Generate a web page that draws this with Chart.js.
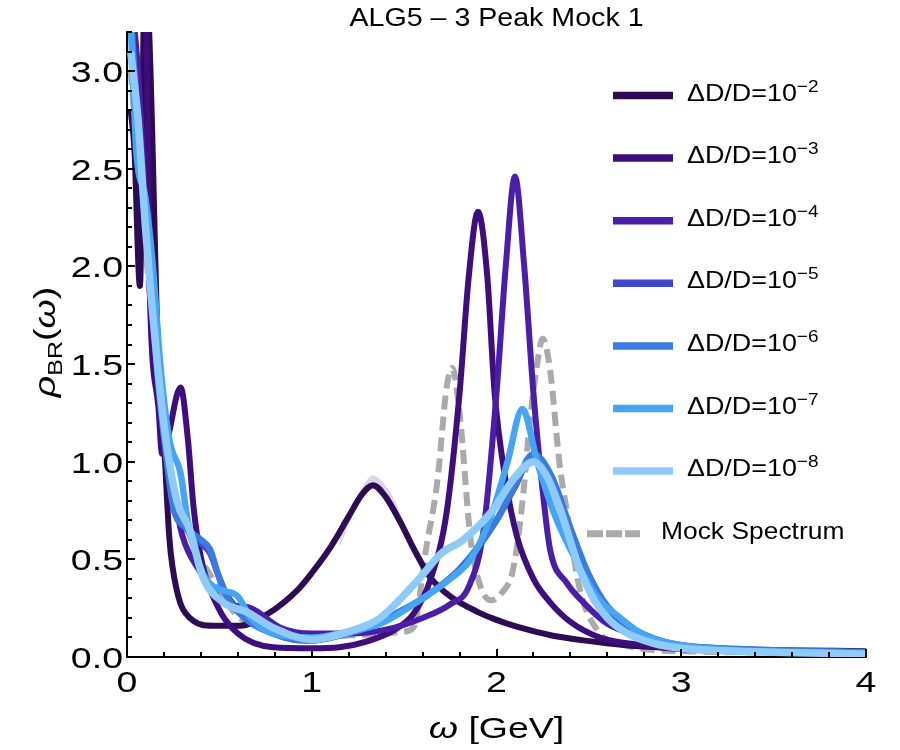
<!DOCTYPE html>
<html>
<head>
<meta charset="utf-8">
<title>ALG5 – 3 Peak Mock 1</title>
<script src="https://cdn.jsdelivr.net/npm/chart.js@4.4.1/dist/chart.umd.min.js"></script>
<style>
  html, body { margin: 0; padding: 0; background: #fff; }
  canvas { display: block; }
</style>
</head>
<body>
<canvas id="chart" width="900" height="750"></canvas>
<script>
// omega [GeV] grids and rho_BR values, one pair per dD/D
const w2 = [0.02, 0.04, 0.07, 0.095, 0.115, 0.17, 0.2, 0.23, 0.27, 0.34, 0.47, 0.61, 0.76, 0.92, 1.0, 1.1, 1.2, 1.27, 1.33, 1.4, 1.48, 1.56, 1.64, 1.75, 1.9, 2.0, 2.11, 2.3, 2.47, 2.7, 3.0, 3.5, 4.0];
const rho2 = [2.8, 2.6, 1.9, 3.4, 3.3, 1.5, 1.1, 0.6, 0.34, 0.2, 0.16, 0.16, 0.22, 0.34, 0.43, 0.56, 0.72, 0.83, 0.88, 0.82, 0.69, 0.54, 0.41, 0.31, 0.23, 0.19, 0.155, 0.11, 0.085, 0.06, 0.045, 0.035, 0.03];

const w3 = [0.02, 0.08, 0.105, 0.12, 0.17, 0.19, 0.22, 0.29, 0.33, 0.36, 0.4, 0.49, 0.6, 0.79, 1.0, 1.15, 1.3, 1.45, 1.55, 1.64, 1.73, 1.8, 1.85, 1.9, 1.95, 1.99, 2.05, 2.11, 2.2, 2.29, 2.4, 2.56, 2.8, 3.0, 3.5, 4.0];
const rho3 = [3.4, 3.4, 3.3, 2.0, 1.28, 1.04, 1.12, 1.38, 1.11, 0.77, 0.51, 0.26, 0.12, 0.05, 0.045, 0.05, 0.08, 0.14, 0.22, 0.39, 0.74, 1.35, 1.95, 2.28, 1.95, 1.35, 0.9, 0.62, 0.4, 0.28, 0.18, 0.1, 0.06, 0.04, 0.03, 0.025];

const w4 = [0.02, 0.06, 0.1, 0.15, 0.2, 0.25, 0.3, 0.4, 0.48, 0.55, 0.67, 0.83, 1.0, 1.2, 1.4, 1.6, 1.75, 1.85, 1.93, 2.0, 2.05, 2.1, 2.15, 2.2, 2.25, 2.29, 2.38, 2.47, 2.6, 2.8, 3.0, 3.5, 4.0];
const rho4 = [3.4, 3.0, 2.3, 1.7, 1.15, 0.85, 0.62, 0.43, 0.32, 0.27, 0.25, 0.15, 0.12, 0.12, 0.14, 0.2, 0.27, 0.36, 0.65, 1.35, 2.0, 2.46, 2.0, 1.35, 0.85, 0.55, 0.38, 0.28, 0.17, 0.1, 0.05, 0.03, 0.025];

const w5 = [0.02, 0.06, 0.12, 0.17, 0.21, 0.25, 0.32, 0.4, 0.45, 0.49, 0.54, 0.65, 0.79, 0.9, 1.0, 1.15, 1.3, 1.45, 1.6, 1.8, 2.0, 2.1, 2.19, 2.3, 2.4, 2.5, 2.6, 2.75, 2.9, 3.0, 3.5, 4.0];
const rho5 = [3.3, 2.7, 2.0, 1.4, 1.05, 0.78, 0.66, 0.58, 0.53, 0.43, 0.32, 0.2, 0.12, 0.09, 0.085, 0.11, 0.15, 0.22, 0.3, 0.45, 0.7, 0.87, 1.02, 0.9, 0.64, 0.41, 0.25, 0.13, 0.08, 0.06, 0.035, 0.025];

const w6 = [0.02, 0.06, 0.12, 0.17, 0.21, 0.25, 0.32, 0.4, 0.45, 0.49, 0.54, 0.65, 0.79, 0.9, 1.0, 1.15, 1.3, 1.45, 1.6, 1.8, 2.0, 2.1, 2.2, 2.3, 2.4, 2.5, 2.6, 2.75, 2.9, 3.0, 3.5, 4.0];
const rho6 = [3.3, 2.7, 2.0, 1.4, 1.05, 0.77, 0.66, 0.6, 0.55, 0.43, 0.31, 0.19, 0.12, 0.09, 0.085, 0.11, 0.15, 0.22, 0.3, 0.45, 0.7, 0.88, 1.04, 0.92, 0.66, 0.42, 0.26, 0.14, 0.08, 0.06, 0.035, 0.025];

const w7 = [0.02, 0.05, 0.1, 0.14, 0.18, 0.23, 0.29, 0.33, 0.41, 0.47, 0.52, 0.6, 0.67, 0.79, 1.0, 1.2, 1.37, 1.6, 1.75, 1.86, 1.97, 2.06, 2.14, 2.22, 2.31, 2.45, 2.55, 2.67, 2.8, 3.0, 3.3, 4.0];
const rho7 = [3.25, 2.6, 2.35, 2.0, 1.5, 1.11, 0.94, 0.69, 0.43, 0.36, 0.34, 0.31, 0.2, 0.12, 0.1, 0.13, 0.17, 0.3, 0.4, 0.5, 0.72, 1.0, 1.27, 1.0, 0.74, 0.46, 0.3, 0.2, 0.11, 0.06, 0.035, 0.02];

const w8 = [0.02, 0.06, 0.1, 0.13, 0.17, 0.21, 0.27, 0.34, 0.41, 0.52, 0.65, 0.79, 1.0, 1.2, 1.37, 1.59, 1.7, 1.82, 1.97, 2.1, 2.2, 2.27, 2.34, 2.45, 2.53, 2.6, 2.71, 2.85, 3.0, 3.3, 4.0];
const rho8 = [3.1, 2.75, 2.2, 1.85, 1.45, 1.12, 0.8, 0.65, 0.41, 0.28, 0.23, 0.15, 0.09, 0.13, 0.2, 0.41, 0.53, 0.6, 0.74, 0.92, 1.0, 0.93, 0.77, 0.45, 0.29, 0.2, 0.12, 0.07, 0.045, 0.03, 0.015];

const mockW = [0.02, 0.1, 0.2, 0.3, 0.4, 0.45, 0.5, 0.6, 0.67, 0.8, 1.0, 1.2, 1.4, 1.5, 1.55, 1.62, 1.68, 1.73, 1.76, 1.8, 1.86, 1.91, 1.97, 2.03, 2.09, 2.14, 2.18, 2.22, 2.25, 2.29, 2.34, 2.38, 2.45, 2.56, 2.7, 3.0, 4.0];
const mockRho = [3.0, 2.1, 1.1, 0.72, 0.5, 0.42, 0.33, 0.21, 0.17, 0.12, 0.1, 0.11, 0.12, 0.13, 0.15, 0.56, 0.9, 1.38, 1.48, 1.25, 0.6, 0.37, 0.29, 0.33, 0.45, 0.79, 1.2, 1.5, 1.63, 1.47, 1.0, 0.75, 0.35, 0.12, 0.06, 0.03, 0.02];

// error band around the dD/D=1e-2 peak
const bandW = [1.15, 1.22, 1.28, 1.33, 1.38, 1.45, 1.52];
const bandHi = [0.62, 0.77, 0.88, 0.93, 0.9, 0.8, 0.64];
const bandLo = [0.56, 0.72, 0.82, 0.86, 0.83, 0.73, 0.58];

const exponents = ['2', '3', '4', '5', '6', '7', '8'];
const xTicks = [0, 1, 2, 3, 4];
const yTicks = [0, 0.5, 1, 1.5, 2, 2.5, 3];
const yTickLabels = ['0.0', '0.5', '1.0', '1.5', '2.0', '2.5', '3.0'];

const colours = ['#2d0c54', '#3e0f7c', '#4b1ea8', '#3f47cc', '#3b7ade', '#45a5f3', '#8ecbf8'];
const widths = [6, 6, 6, 6, 6.5, 6.5, 7.5];
const mockColour = '#aaaaaa';
const FONT = '"Liberation Sans", Arial, sans-serif';

function pts(xs, ys) {
  return xs.map((x, i) => ({ x, y: ys[i] }));
}

const seriesW = [w2, w3, w4, w5, w6, w7, w8];
const seriesRho = [rho2, rho3, rho4, rho5, rho6, rho7, rho8];

const datasets = [
  {
    label: 'band hi', data: pts(bandW, bandHi), borderWidth: 0, pointRadius: 0,
    backgroundColor: '#ddd5e8', fill: '+1', order: 20, cubicInterpolationMode: 'monotone'
  },
  {
    label: 'band lo', data: pts(bandW, bandLo), borderWidth: 0, pointRadius: 0,
    fill: false, order: 21, cubicInterpolationMode: 'monotone'
  },
  {
    label: 'Mock Spectrum', data: pts(mockW, mockRho), borderColor: mockColour,
    borderWidth: 6, borderDash: [14, 7], pointRadius: 0, fill: false, order: 10,
    cubicInterpolationMode: 'monotone', clip: 0
  }
];
exponents.forEach((e, i) => {
  datasets.push({
    label: 'ΔD/D=10^-' + e,
    data: pts(seriesW[i], seriesRho[i]),
    borderColor: colours[i],
    borderWidth: widths[i],
    borderJoinStyle: 'round',
    pointRadius: 0,
    fill: false,
    order: 6 - i,
    cubicInterpolationMode: 'monotone',
    clip: 0
  });
});

// draws text squeezed/stretched horizontally by sx
function stretchText(ctx, str, x, y, sx, align) {
  const w = ctx.measureText(str).width * sx;
  let x0 = x;
  if (align === 'center') x0 = x - w / 2;
  else if (align === 'right') x0 = x - w;
  ctx.save();
  ctx.translate(x0, y);
  ctx.scale(sx, 1);
  ctx.textAlign = 'left';
  ctx.fillText(str, 0, 0);
  ctx.restore();
  return w;
}

// runs: [{t, f, dy}] drawn one after another, centred on x
function drawRuns(ctx, runs, x, y, sx) {
  let total = 0;
  runs.forEach(r => { ctx.font = r.f; total += ctx.measureText(r.t).width * sx; });
  let cx = x - total / 2;
  runs.forEach(r => {
    ctx.font = r.f;
    cx += stretchText(ctx, r.t, cx, y + (r.dy || 0), sx, 'left');
  });
}

const decor = {
  id: 'decor',
  afterDraw(chart) {
    const ctx = chart.ctx;
    const xs = chart.scales.x;
    const ys = chart.scales.y;
    ctx.save();
    ctx.strokeStyle = '#000';
    ctx.lineWidth = 2;
    ctx.beginPath();
    for (let i = 0; i <= 32; i++) {
      const py = Math.round(ys.getPixelForValue(i / 10));
      const len = i % 5 === 0 ? 8 : 5;
      ctx.moveTo(xs.left, py);
      ctx.lineTo(xs.left + len, py);
    }
    for (let i = 0; i <= 20; i++) {
      const px = Math.round(xs.getPixelForValue(i / 5));
      const len = i % 5 === 0 ? 8 : 5;
      ctx.moveTo(px, ys.bottom);
      ctx.lineTo(px, ys.bottom - len);
    }
    ctx.stroke();

    ctx.fillStyle = '#000';
    ctx.textBaseline = 'alphabetic';
    ctx.font = '30px ' + FONT;
    yTicks.forEach((v, k) => {
      stretchText(ctx, yTickLabels[k], xs.left - 4, ys.getPixelForValue(v) + 11, 1.25, 'right');
    });
    xTicks.forEach(v => {
      stretchText(ctx, String(v), xs.getPixelForValue(v), ys.bottom + 35, 1.25, 'center');
    });

    // axis titles
    const midX = (xs.left + xs.right) / 2;
    drawRuns(ctx, [
      { t: 'ω', f: 'italic 30px ' + FONT },
      { t: ' [GeV]', f: '30px ' + FONT }
    ], midX, 738, 1.25);

    ctx.save();
    ctx.translate(55, 342);
    ctx.rotate(-Math.PI / 2);
    drawRuns(ctx, [
      { t: 'ρ', f: 'italic 30px ' + FONT },
      { t: 'BR', f: '20px ' + FONT, dy: 7 },
      { t: '(', f: '30px ' + FONT },
      { t: 'ω', f: 'italic 30px ' + FONT },
      { t: ')', f: '30px ' + FONT }
    ], 0, 0, 1.25);
    ctx.restore();

    // chart title
    ctx.font = '26px ' + FONT;
    stretchText(ctx, 'ALG5 – 3 Peak Mock 1', midX, 26, 1.1, 'center');

    // legend
    const rowTop = 95.5, rowStep = 62.6;
    exponents.forEach((e, i) => {
      const ry = rowTop + i * rowStep;
      ctx.strokeStyle = colours[i];
      ctx.lineWidth = 7.5;
      ctx.setLineDash([]);
      ctx.beginPath();
      ctx.moveTo(613, ry);
      ctx.lineTo(673, ry);
      ctx.stroke();
      ctx.font = '24px ' + FONT;
      const w = stretchText(ctx, 'ΔD/D=10', 687, ry + 5, 1.12, 'left');
      ctx.font = '17px ' + FONT;
      stretchText(ctx, '−' + e, 687 + w, ry - 4, 1.12, 'left');
    });
    const my = rowTop + exponents.length * rowStep;
    ctx.strokeStyle = mockColour;
    ctx.lineWidth = 7;
    ctx.setLineDash([16, 3]);
    ctx.beginPath();
    ctx.moveTo(587, my);
    ctx.lineTo(640, my);
    ctx.stroke();
    ctx.setLineDash([]);
    ctx.font = '24px ' + FONT;
    stretchText(ctx, 'Mock Spectrum', 661, my + 5, 1.1, 'left');
    ctx.restore();
  }
};

new Chart(document.getElementById('chart').getContext('2d'), {
  type: 'line',
  data: { datasets },
  options: {
    responsive: false,
    devicePixelRatio: 1,
    animation: false,
    events: [],
    layout: { padding: { left: 0, right: 34, top: 32, bottom: 0 } },
    plugins: { legend: { display: false }, title: { display: false }, tooltip: { enabled: false } },
    scales: {
      x: {
        type: 'linear', min: 0, max: 4,
        grid: { display: false, drawTicks: false },
        border: { display: true, color: '#000', width: 2 },
        ticks: { display: false },
        afterBuildTicks: s => { s.ticks = xTicks.map(v => ({ value: v })); },
        afterFit: s => { s.height = 93; }
      },
      y: {
        type: 'linear', min: 0, max: 3.2,
        grid: { display: false, drawTicks: false },
        border: { display: true, color: '#000', width: 2 },
        ticks: { display: false },
        afterBuildTicks: s => { s.ticks = yTicks.map(v => ({ value: v })); },
        afterFit: s => { s.width = 127; }
      }
    }
  },
  plugins: [decor]
});
</script>
</body>
</html>
